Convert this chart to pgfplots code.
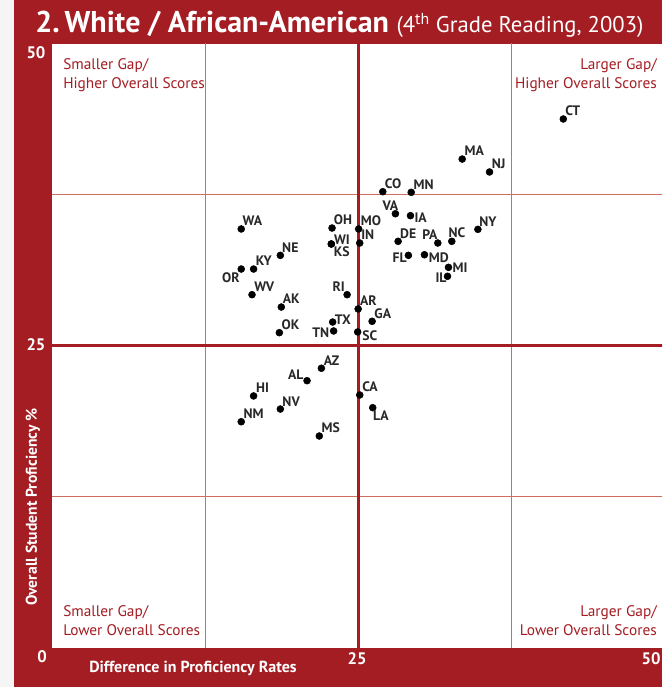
\documentclass[border=0pt]{standalone}
\usepackage{fontspec}
\setmainfont{PT Sans}
\usepackage{pgfplots}
\usepackage{pgfplotstable}
\pgfplotsset{compat=1.18}
\definecolor{dred}{RGB}{164,29,35}
\definecolor{gridc}{RGB}{205,110,95}
\definecolor{labc}{RGB}{40,40,40}

\pgfplotstableread{
x y lab dx dy
41.72 43.72 CT 9.5 8.5
33.47 40.41 MA 12 8.5
35.70 39.34 NJ 9.2 8.3
26.99 37.71 CO 10.4 7.7
29.31 37.66 MN 12.3 7.6
28.02 35.89 VA -5 8.4
29.25 35.73 IA 10.2 -2
15.44 34.63 WA 11.2 8.5
22.85 34.71 OH 11 8.3
25.02 34.63 MO 12.4 8.2
34.75 34.60 NY 10 7.6
22.79 33.39 WI 10.7 4.6
22.79 33.39 KS 10.5 -8.2
25.11 33.47 IN 8 8.7
28.24 33.61 DE 10.1 7.8
31.48 33.47 PA -8 8.7
32.62 33.61 NC 5.2 8.5
18.63 32.45 NE 10 7.3
29.08 32.45 FL -8.7 -2.7
30.39 32.50 MD 14.3 -2.6
16.45 31.32 KY 10.2 8.5
15.44 31.32 OR -10.3 -9
32.35 31.46 MI 11.7 -0.7
32.27 30.72 IL -6.5 -1.4
16.32 29.20 WV 12.3 8
24.08 29.20 RI -8.5 7.7
18.71 28.18 AK 10 8.3
24.98 28.02 AR 10.3 8.7
26.12 27.00 GA 10.6 7.5
22.90 26.94 TX 10.2 2
22.98 26.20 TN -12.8 -2
18.55 26.06 OK 11.2 8
24.94 26.12 SC 12.2 -3.3
21.98 23.12 AZ 10.3 7.8
20.81 22.09 AL -11.2 6
16.45 20.83 HI 8.9 8
25.11 20.91 CA 10.2 7.8
18.63 19.75 NV 10.8 7.3
26.17 19.86 LA 8.2 -8.1
15.44 18.70 NM 12.3 7.9
21.81 17.52 MS 11.5 8.7
}\states

\begin{document}
\begin{tikzpicture}[x=0.75pt,y=0.75pt]
\path[use as bounding box] (0,0) rectangle (662,687);
\clip (0,0) rectangle (662,687);
\fill[gray!8] (0,0) rectangle (14,687);
\fill[dred] (14,0) rectangle (662,687);
\fill[white] (52,39) rectangle (662,643);
\begin{axis}[
  at={(39pt,29.25pt)}, anchor=south west,
  scale only axis, width=459.6pt, height=453.75pt,
  xmin=0, xmax=50, ymin=0, ymax=50,
  axis line style={draw=none},
  xtick={12.5,37.5}, ytick={12.5,37.5},
  xticklabels={}, yticklabels={},
  major tick length=0pt,
  grid=major,
  major grid style={gridc, line width=0.7pt},
  extra x ticks={25}, extra y ticks={25},
  extra x tick labels={}, extra y tick labels={},
  extra tick style={major grid style={dred, line width=2.4pt}},
  clip=false,
]
\addplot[only marks, mark=*, mark size=2.6pt, black,
  point meta=explicit symbolic,
  visualization depends on={\thisrow{dx}\as\dx},
  visualization depends on={\thisrow{dy}\as\dy},
  nodes near coords,
  every node near coord/.append style={anchor=center, xshift=\dx*0.75pt, yshift=\dy*0.75pt,
    font=\fontsize{10.3}{11}\selectfont\bfseries, text=labc, inner sep=0pt},
] table[x=x, y=y, meta=lab] {\states};
\end{axis}
% title
\node[anchor=base west, text=white, inner sep=0pt] at (35,654)
  {\fontsize{22.5}{24}\selectfont\bfseries 2.\,White / African-American\hspace{0.25em}\fontsize{17}{20}\selectfont\mdseries (4\textsuperscript{th} Grade Reading, 2003)};
% quadrant labels
\node[anchor=north west, align=left, text=dred, inner sep=0pt, font=\fontsize{11.5}{14.25}\selectfont] at (63,629) {Smaller Gap/\\Higher Overall Scores};
\node[anchor=north east, align=right, text=dred, inner sep=0pt, font=\fontsize{11.5}{14.25}\selectfont] at (657,629) {Larger Gap/\\Higher Overall Scores};
\node[anchor=north west, align=left, text=dred, inner sep=0pt, font=\fontsize{11.5}{14.25}\selectfont] at (63,82) {Smaller Gap/\\Lower Overall Scores};
\node[anchor=north east, align=right, text=dred, inner sep=0pt, font=\fontsize{11.5}{14.25}\selectfont] at (657,82) {Larger Gap/\\Lower Overall Scores};
% tick labels
\begin{scope}[every node/.style={text=white, inner sep=0pt, font=\fontsize{12.5}{13}\selectfont\bfseries}]
\node at (36,634) {50};
\node at (36,342) {25};
\node at (42,30) {0};
\node at (357,28) {25};
\node at (651,28) {50};
\end{scope}
% axis labels
\node[text=white, inner sep=0pt, font=\fontsize{12}{13}\selectfont\bfseries] at (193,19) {Difference in Proficiency Rates};
\node[text=white, inner sep=0pt, rotate=90, font=\fontsize{11.7}{13}\selectfont\bfseries] at (33,180) {Overall Student Proficiency \%};
\end{tikzpicture}
\end{document}
